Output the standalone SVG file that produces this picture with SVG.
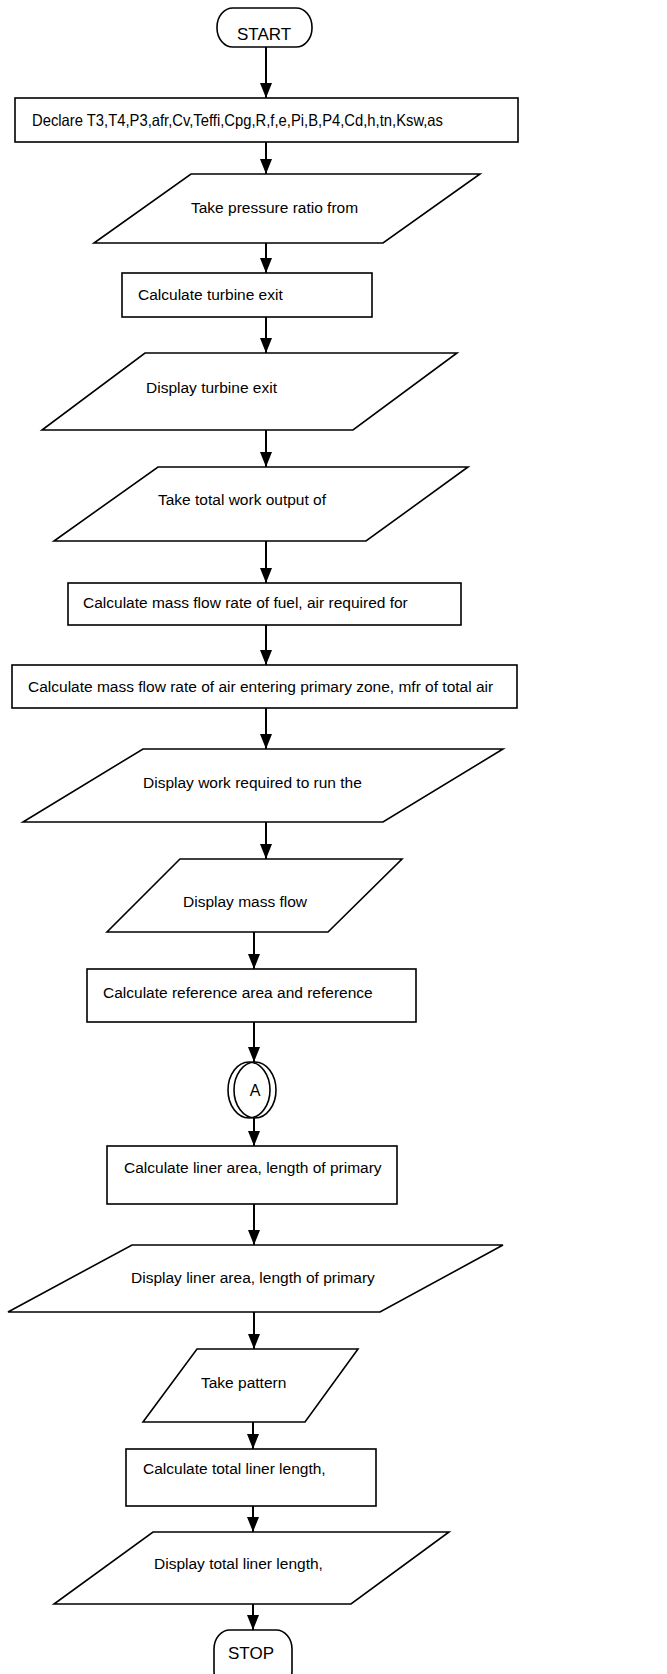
<svg xmlns="http://www.w3.org/2000/svg" width="667" height="1674" viewBox="0 0 667 1674">
<style>
.s{fill:#fff;stroke:#000;stroke-width:1.6}
.t{font-family:"Liberation Sans",Arial,sans-serif;font-size:15.5px;fill:#000}
.c{stroke:#000;stroke-width:2;fill:none}
</style>
<defs>
<marker id="ah" markerUnits="userSpaceOnUse" markerWidth="16" markerHeight="13" refX="15" refY="6" orient="auto">
<path d="M0,0 L15,6 L0,12 z" fill="#000"/>
</marker>
</defs>
<rect width="667" height="1674" fill="#fff"/>
<g id="connectors">
<line class="c" x1="266" y1="47" x2="266" y2="98" marker-end="url(#ah)"/>
<line class="c" x1="266" y1="142" x2="266" y2="174" marker-end="url(#ah)"/>
<line class="c" x1="266" y1="243" x2="266" y2="273" marker-end="url(#ah)"/>
<line class="c" x1="266" y1="317" x2="266" y2="353" marker-end="url(#ah)"/>
<line class="c" x1="266" y1="430" x2="266" y2="467" marker-end="url(#ah)"/>
<line class="c" x1="266" y1="541" x2="266" y2="583" marker-end="url(#ah)"/>
<line class="c" x1="266" y1="625" x2="266" y2="665" marker-end="url(#ah)"/>
<line class="c" x1="266" y1="708" x2="266" y2="749" marker-end="url(#ah)"/>
<line class="c" x1="266" y1="822" x2="266" y2="859" marker-end="url(#ah)"/>
<line class="c" x1="254" y1="932" x2="254" y2="969" marker-end="url(#ah)"/>
<line class="c" x1="254" y1="1022" x2="254" y2="1062" marker-end="url(#ah)"/>
<line class="c" x1="254" y1="1118" x2="254" y2="1146" marker-end="url(#ah)"/>
<line class="c" x1="254" y1="1204" x2="254" y2="1245" marker-end="url(#ah)"/>
<line class="c" x1="254" y1="1312" x2="254" y2="1349" marker-end="url(#ah)"/>
<line class="c" x1="253" y1="1422" x2="253" y2="1449" marker-end="url(#ah)"/>
<line class="c" x1="253" y1="1506" x2="253" y2="1532" marker-end="url(#ah)"/>
<line class="c" x1="253" y1="1604" x2="253" y2="1630" marker-end="url(#ah)"/>
</g>
<g id="start">
<rect class="s" x="217" y="8" width="95" height="39" rx="16" ry="19"/>
<text class="t" x="264" y="40" text-anchor="middle" style="font-size:17px">START</text>
</g>
<g id="declare">
<rect class="s" x="15" y="98" width="503" height="44"/>
<text class="t" x="32" y="126" textLength="411" lengthAdjust="spacingAndGlyphs" style="font-size:16.5px">Declare T3,T4,P3,afr,Cv,Teffi,Cpg,R,f,e,Pi,B,P4,Cd,h,tn,Ksw,as</text>
</g>
<g id="take-pressure">
<polygon class="s" points="191,174 480,174 383,243 94,243"/>
<text class="t" x="191" y="213">Take pressure ratio from</text>
</g>
<g id="calc-turbine">
<rect class="s" x="122" y="273" width="250" height="44"/>
<text class="t" x="138" y="300">Calculate turbine exit</text>
</g>
<g id="display-turbine">
<polygon class="s" points="145,353 457,353 353,430 42,430"/>
<text class="t" x="146" y="393">Display turbine exit</text>
</g>
<g id="take-work">
<polygon class="s" points="158,467 468,467 366,541 54,541"/>
<text class="t" x="158" y="505">Take total work output of</text>
</g>
<g id="calc-fuel">
<rect class="s" x="68" y="583" width="393" height="42"/>
<text class="t" x="83" y="608">Calculate mass flow rate of fuel, air required for</text>
</g>
<g id="calc-air">
<rect class="s" x="12" y="665" width="505" height="43"/>
<text class="t" x="28" y="692">Calculate mass flow rate of air entering primary zone, mfr of total air</text>
</g>
<g id="display-work">
<polygon class="s" points="143,749 503,749 383,822 23,822"/>
<text class="t" x="143" y="788">Display work required to run the</text>
</g>
<g id="display-mass">
<polygon class="s" points="180,859 402,859 328,932 107,932"/>
<text class="t" x="183" y="907">Display mass flow</text>
</g>
<g id="calc-reference">
<rect class="s" x="87" y="969" width="329" height="53"/>
<text class="t" x="103" y="998">Calculate reference area and reference</text>
</g>
<g id="connector-a">
<ellipse class="s" cx="249" cy="1090" rx="21" ry="28"/>
<ellipse class="s" cx="255" cy="1090" rx="21" ry="28" style="fill:none"/>
<text class="t" x="255" y="1096" text-anchor="middle" style="font-size:16px">A</text>
</g>
<g id="calc-liner">
<rect class="s" x="107" y="1146" width="290" height="58"/>
<text class="t" x="124" y="1173">Calculate liner area, length of primary</text>
</g>
<g id="display-liner">
<polygon class="s" points="132,1245 503,1245 380,1312 8,1312"/>
<text class="t" x="131" y="1283">Display liner area, length of primary</text>
</g>
<g id="take-pattern">
<polygon class="s" points="197,1349 358,1349 305,1422 143,1422"/>
<text class="t" x="201" y="1388">Take pattern</text>
</g>
<g id="calc-total">
<rect class="s" x="126" y="1449" width="250" height="57"/>
<text class="t" x="143" y="1474">Calculate total liner length,</text>
</g>
<g id="display-total">
<polygon class="s" points="153,1532 449,1532 351,1604 54,1604"/>
<text class="t" x="154" y="1569">Display total liner length,</text>
</g>
<g id="stop">
<rect class="s" x="214" y="1630" width="78" height="60" rx="16" ry="19"/>
<text class="t" x="251" y="1659" text-anchor="middle" style="font-size:17px">STOP</text>
</g>
</svg>
